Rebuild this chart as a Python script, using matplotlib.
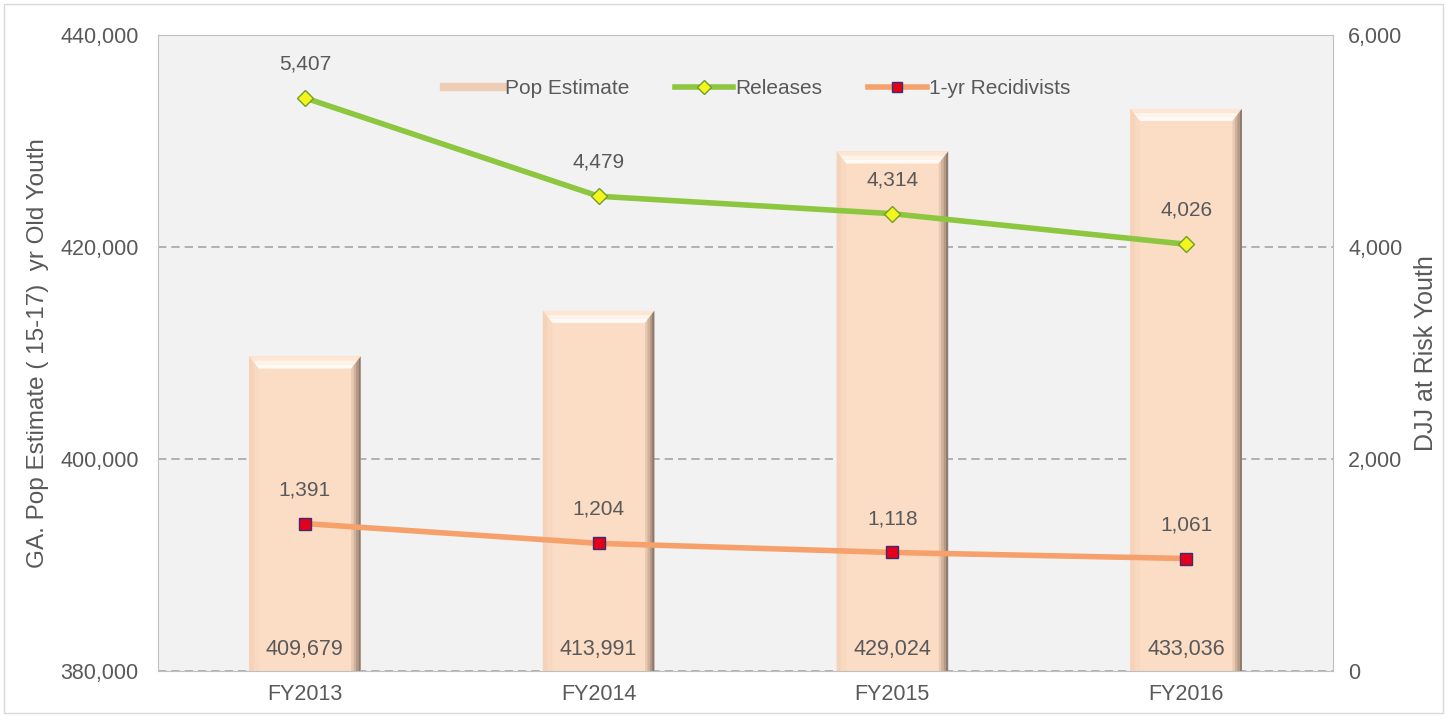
import numpy as np
import matplotlib.pyplot as plt
from matplotlib.patches import Rectangle, Polygon
from matplotlib.lines import Line2D
from matplotlib.ticker import FuncFormatter

plt.rcParams['font.family'] = ['Liberation Sans', 'DejaVu Sans']

# data
years = ["FY2013", "FY2014", "FY2015", "FY2016"]
pop_estimate = [409679, 413991, 429024, 433036]
releases = [5407, 4479, 4314, 4026]
recidivists = [1391, 1204, 1118, 1061]

txt = '#595959'
bar_col = '#fbdcc5'
green = '#8dc63f'
orange = '#f6a16c'

fig = plt.figure(figsize=(14.47, 7.17), dpi=100)
ax = fig.add_axes([158/1447, 1 - 671/717, (1333-158)/1447, (671-35)/717])
ax.set_facecolor('#f2f2f2')
fig.patches.append(Rectangle((4/1447, 4/717), 1439/1447, 709/717, transform=fig.transFigure,
                             fill=False, edgecolor='#d9d9d9', lw=1))

x = np.arange(len(years))
w = 0.38
ymin = 380000

ax.bar(x, np.array(pop_estimate) - ymin, bottom=ymin, width=w, color=bar_col,
       edgecolor='none', zorder=2)

# bevel shading around each bar (graded strips)
b = 0.085 * w      # side bevel width (x units)
bv = 1150          # top bevel height (data units)
right_cols = ['#e9c9b0', '#cfb29c', '#b29886', '#8f7a6c']
left_cols = ['#f4d3ba', '#f8d8bf']
top_cols = ['#fde6d3', '#fff4ea', '#fffaf5']
for xi, v in zip(x, pop_estimate):
    l, r = xi - w/2, xi + w/2
    # top bevel
    n = len(top_cols)
    for i, c in enumerate(top_cols):
        f0, f1 = i / n, (i + 1) / n
        ax.add_patch(Polygon([(l + b*f1, v - bv*f1), (r - b*f1, v - bv*f1),
                              (r - b*f0, v - bv*f0), (l + b*f0, v - bv*f0)],
                             closed=True, color=c, lw=0, zorder=2.1))
    # right bevel
    n = len(right_cols)
    for i, c in enumerate(right_cols):
        f0, f1 = i / n, (i + 1) / n
        ax.add_patch(Polygon([(r - b + b*f0, v - bv + bv*f0), (r - b + b*f1, v - bv + bv*f1),
                              (r - b + b*f1, ymin), (r - b + b*f0, ymin)],
                             closed=True, color=c, lw=0, zorder=2.1))
    # left bevel
    n = len(left_cols)
    for i, c in enumerate(left_cols):
        f0, f1 = i / n, (i + 1) / n
        ax.add_patch(Polygon([(l + b*f0, v - bv*f0), (l + b*f1, v - bv*f1),
                              (l + b*f1, ymin), (l + b*f0, ymin)],
                             closed=True, color=c, lw=0, zorder=2.1))
    ax.text(xi, ymin + 1000, f"{v:,}", ha='center', va='bottom', fontsize=15.5,
            color=txt, zorder=5)

ax.set_xlim(-0.5, len(years) - 0.5)
ax.set_ylim(380000, 440000)
ax.set_yticks([380000, 400000, 420000, 440000])
ax.yaxis.set_major_formatter(FuncFormatter(lambda v, p: f"{int(v):,}"))
ax.set_xticks(x)
ax.set_xticklabels(years)
ax.tick_params(axis='x', length=0, labelsize=15.5, labelcolor=txt, pad=9)
ax.tick_params(axis='y', length=0, labelsize=15.5, labelcolor=txt, pad=14)
ax.grid(axis='y', color='#a6a6a6', linestyle=(0, (5, 3)), lw=1.2, zorder=1)
for s in ax.spines.values():
    s.set_color('#bfbfbf')
ax.set_ylabel("GA. Pop Estimate ( 15-17)  yr Old Youth", fontsize=17.5, color=txt, labelpad=8)

ax2 = ax.twinx()
ax2.set_ylim(0, 6000)
ax2.set_yticks([0, 2000, 4000, 6000])
ax2.yaxis.set_major_formatter(FuncFormatter(lambda v, p: f"{int(v):,}"))
ax2.tick_params(axis='y', length=0, labelsize=15.5, labelcolor=txt, pad=11)
for s in ax2.spines.values():
    s.set_visible(False)
ax2.set_ylabel("DJJ at Risk Youth", fontsize=18, color=txt, labelpad=8)

ax2.plot(x, releases, color=green, lw=4, marker='D', ms=8, mfc='#f5f51e',
         mec='#6e9e2e', mew=1, zorder=3)
ax2.plot(x, recidivists, color=orange, lw=4, marker='s', ms=8.5, mfc='#e3001b',
         mec='#3c2e74', mew=1, zorder=3)
for xi, v in zip(x, releases):
    ax2.text(xi, v + 230, f"{v:,}", ha='center', va='bottom', fontsize=15, color=txt)
for xi, v in zip(x, recidivists):
    ax2.text(xi, v + 230, f"{v:,}", ha='center', va='bottom', fontsize=15, color=txt)

handles = [
    Line2D([], [], color='#edcdb4', lw=6),
    Line2D([], [], color=green, lw=4, marker='D', ms=7, mfc='#f5f51e', mec='#6e9e2e'),
    Line2D([], [], color=orange, lw=4, marker='s', ms=7.5, mfc='#e3001b', mec='#3c2e74'),
]
ax2.legend(handles, ["Pop Estimate", "Releases", "1-yr Recidivists"], loc='upper center',
           bbox_to_anchor=(0.51, 0.96), ncol=3, frameon=False, fontsize=15,
           handlelength=2.8, handletextpad=0.1, columnspacing=2.2, labelcolor=txt)

fig.savefig('out.png', dpi=100)
